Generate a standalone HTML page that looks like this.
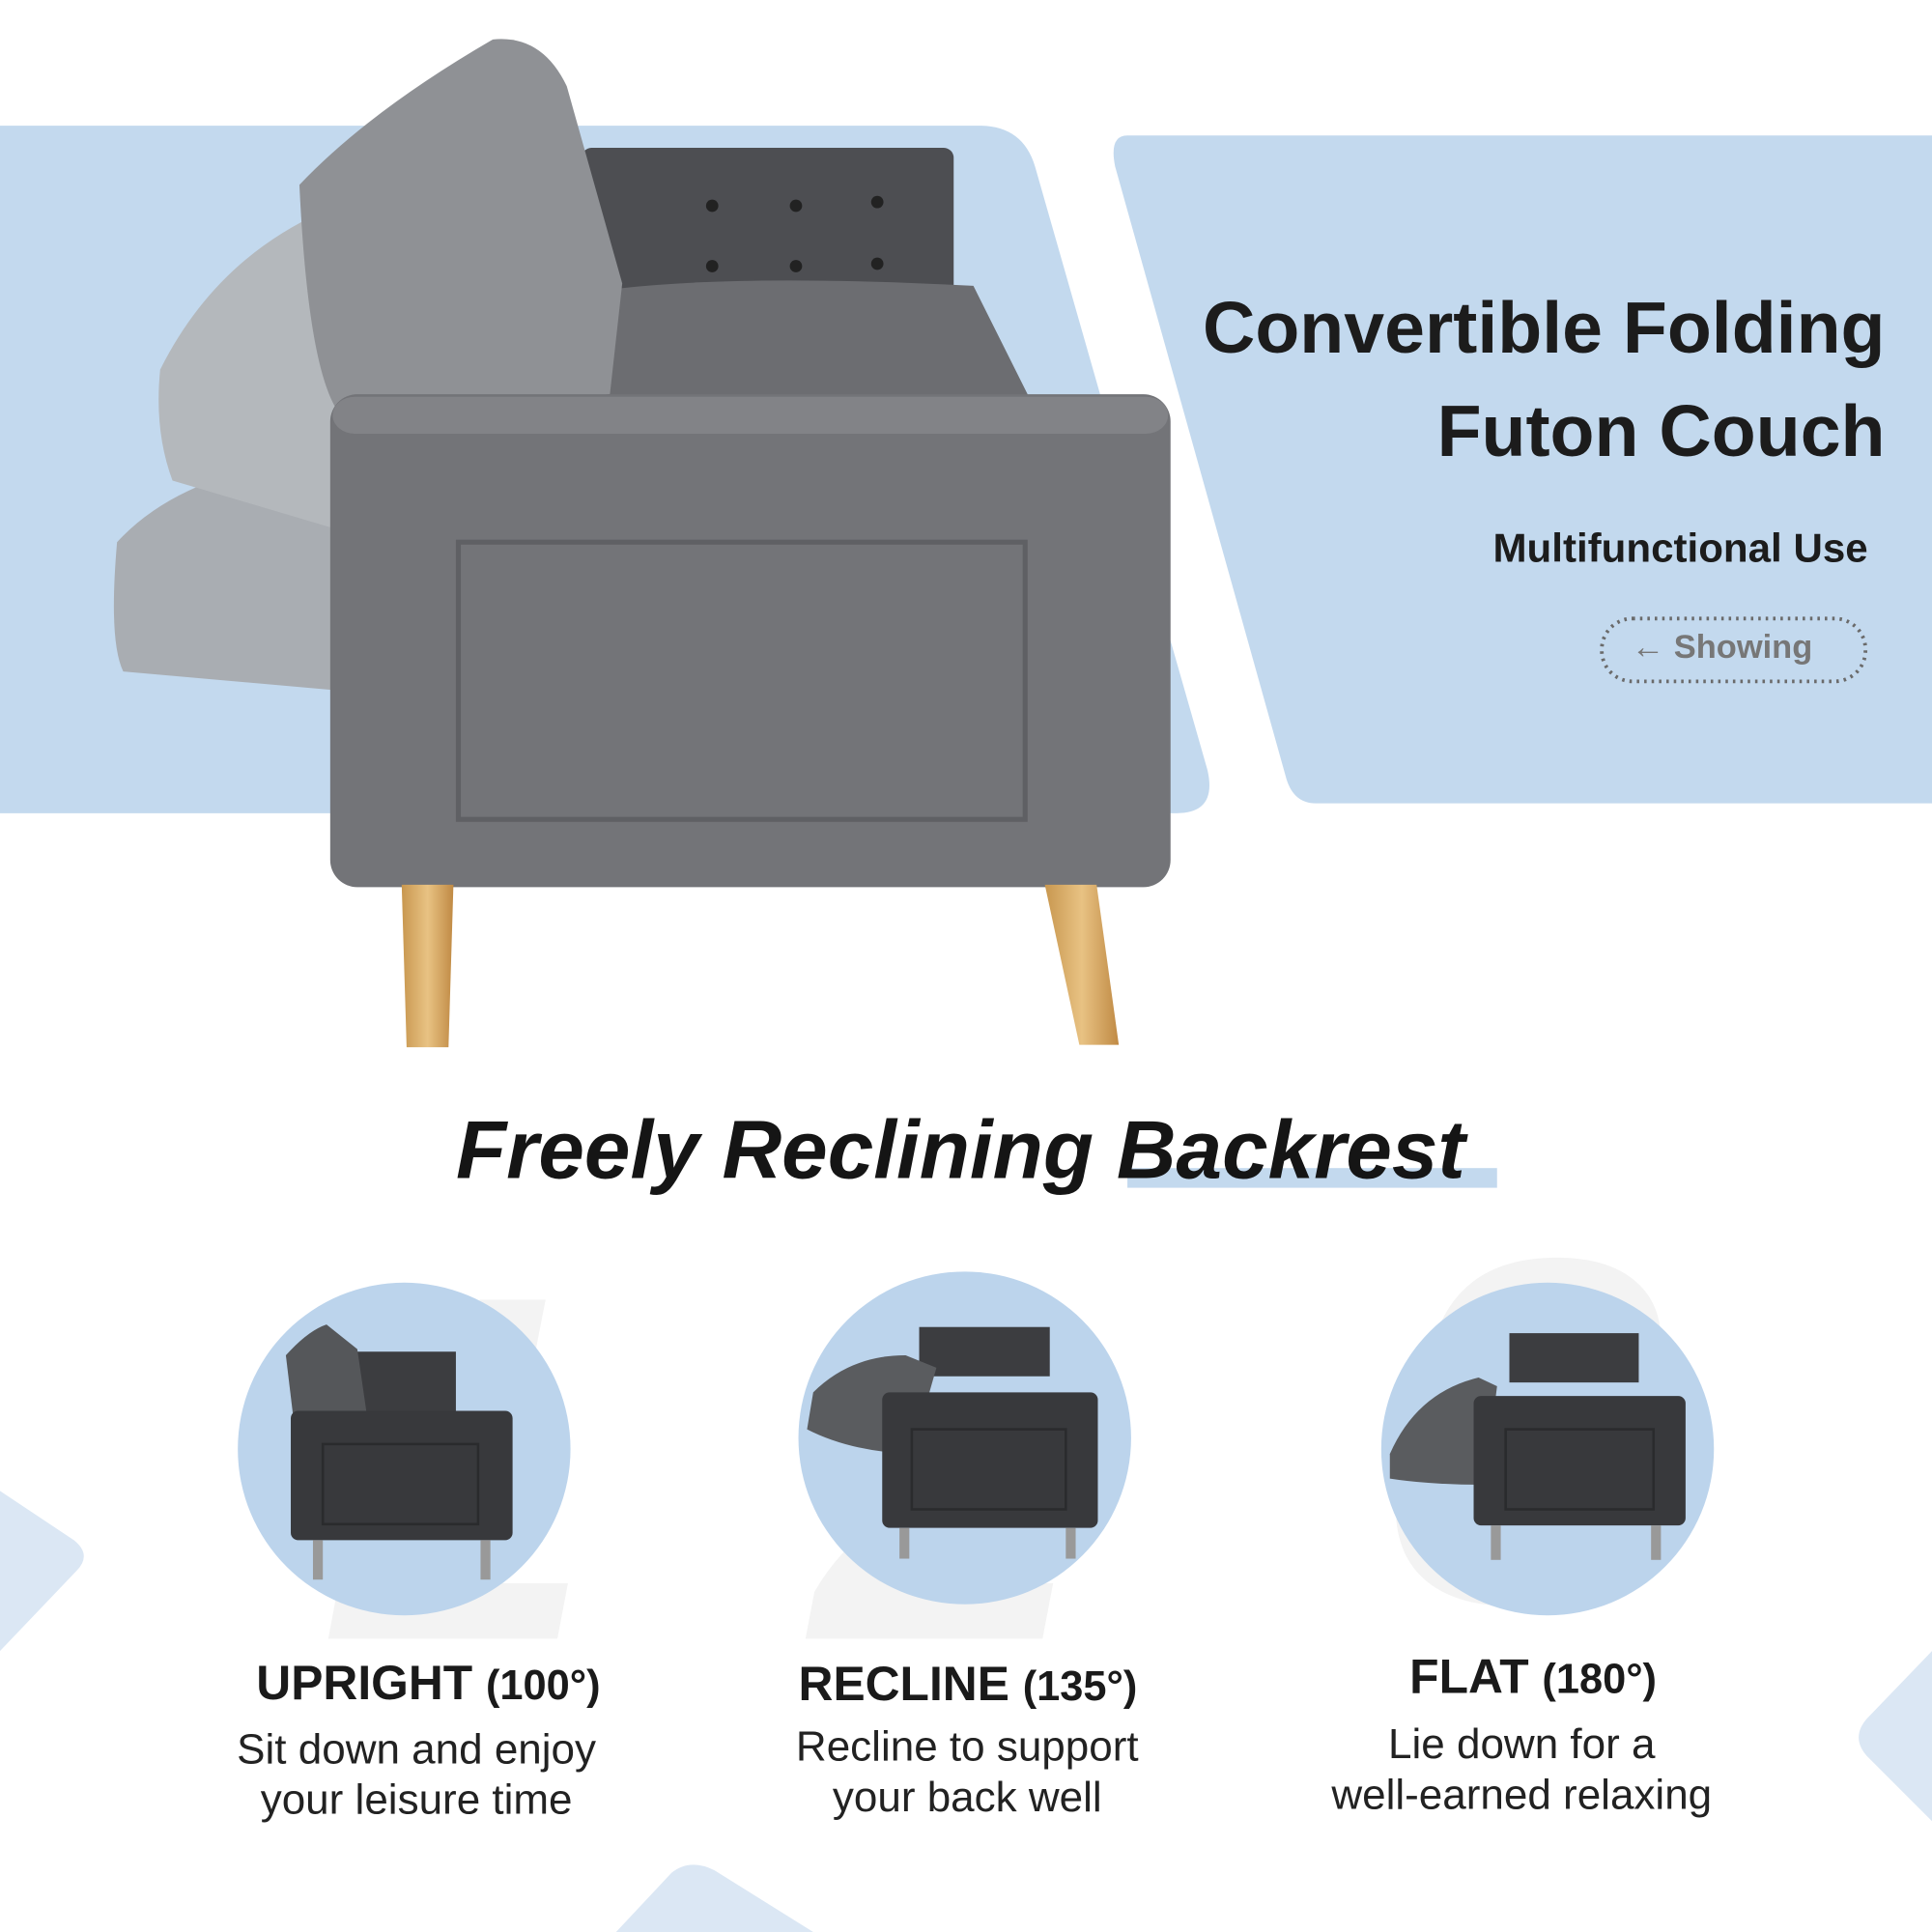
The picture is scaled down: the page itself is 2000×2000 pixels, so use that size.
<!DOCTYPE html>
<html><head><meta charset="utf-8">
<style>
html,body{margin:0;padding:0;background:#fff;overflow:hidden}
#w{width:1568px;height:1568px;position:relative;transform:scale(1.27551);transform-origin:0 0;font-family:"Liberation Sans",sans-serif}
.t{position:absolute;white-space:nowrap}
</style></head><body><div id="w">
<svg width="1568" height="1568" style="position:absolute;left:0;top:0">
<defs>
<linearGradient id="leg" x1="0" x2="1"><stop offset="0" stop-color="#c8974f"/><stop offset=".5" stop-color="#e8c283"/><stop offset="1" stop-color="#c08a44"/></linearGradient>
</defs>
<path d="M0 102 H795 Q830 102 840 135 L980 625 Q988 660 955 660 H0 Z" fill="#c3d9ee"/>
<path d="M915 110 H1568 V652 H1068 Q1050 652 1044 632 L905 135 Q900 110 915 110 Z" fill="#c3d9ee"/>
<path d="M0 1210 L60 1250 Q75 1262 62 1275 L0 1340 Z" fill="#dbe7f4"/>
<path d="M500 1568 L545 1520 Q560 1508 580 1518 L660 1568 Z" fill="#dbe7f4"/>
<path d="M1568 1340 L1515 1395 Q1502 1410 1515 1425 L1568 1478 Z" fill="#dbe7f4"/>
<text x="260" y="1330" font-size="400" font-style="italic" font-weight="bold" fill="#f3f3f3" font-family="Liberation Sans">1</text>
<text x="660" y="1330" font-size="400" font-style="italic" font-weight="bold" fill="#f3f3f3" font-family="Liberation Sans">2</text>
<text x="1130" y="1300" font-size="400" font-style="italic" font-weight="bold" fill="#f3f3f3" font-family="Liberation Sans">3</text>
<path d="M95 440 Q150 380 270 370 L270 560 L100 545 Q88 520 95 440 Z" fill="#a9adb2"/>
<path d="M130 300 Q170 220 245 180 L275 180 L275 430 L140 390 Q125 350 130 300 Z" fill="#b4b8bc"/>
<rect x="472" y="120" width="302" height="205" rx="8" fill="#4d4e52"/>
<g fill="#222">
<circle cx="578" cy="167" r="5"/><circle cx="646" cy="167" r="5"/><circle cx="712" cy="164" r="5"/>
<circle cx="578" cy="216" r="5"/><circle cx="646" cy="216" r="5"/><circle cx="712" cy="214" r="5"/>
</g>
<path d="M495 235 Q600 222 790 232 L835 322 L495 322 Z" fill="#6c6d71"/>
<path d="M243 150 Q300 90 400 32 Q440 28 460 70 L505 230 L495 320 L275 335 Q250 300 243 150 Z" fill="#8f9195"/>
<rect x="268" y="320" width="682" height="400" rx="22" fill="#737478"/>
<rect x="270" y="322" width="678" height="30" rx="18" fill="#828387"/>
<rect x="372" y="440" width="460" height="225" fill="none" stroke="#5f6064" stroke-width="4"/>
<path d="M326 718 H368 L364 850 H330 Z" fill="url(#leg)"/>
<path d="M848 718 H890 L908 848 H876 Z" fill="url(#leg)"/>
<circle cx="328" cy="1176" r="135" fill="#bcd4ec"/>
<circle cx="783" cy="1167" r="135" fill="#bcd4ec"/>
<circle cx="1256" cy="1176" r="135" fill="#bcd4ec"/>
<g>
<rect x="290" y="1097" width="80" height="50" fill="#3c3d40"/>
<path d="M232 1100 Q250 1080 265 1075 L290 1095 L298 1150 L238 1150 Z" fill="#55575a"/>
<rect x="236" y="1145" width="180" height="105" rx="6" fill="#38393c"/>
<rect x="262" y="1172" width="126" height="65" fill="none" stroke="#2a2b2d" stroke-width="2"/>
<rect x="254" y="1250" width="8" height="32" fill="#999"/><rect x="390" y="1250" width="8" height="32" fill="#999"/>
</g>
<g>
<rect x="746" y="1077" width="106" height="40" fill="#3c3d40"/>
<path d="M660 1130 Q690 1100 735 1100 L760 1110 L740 1180 Q690 1178 655 1160 Z" fill="#5a5c5f"/>
<rect x="716" y="1130" width="175" height="110" rx="6" fill="#38393c"/>
<rect x="740" y="1160" width="125" height="65" fill="none" stroke="#2a2b2d" stroke-width="2"/>
<rect x="730" y="1240" width="8" height="25" fill="#999"/><rect x="865" y="1240" width="8" height="25" fill="#999"/>
</g>
<g>
<rect x="1225" y="1082" width="105" height="40" fill="#3c3d40"/>
<path d="M1128 1180 Q1150 1130 1200 1118 L1215 1125 L1205 1205 Q1160 1205 1128 1200 Z" fill="#5a5c5f"/>
<rect x="1196" y="1133" width="172" height="105" rx="6" fill="#38393c"/>
<rect x="1222" y="1160" width="120" height="65" fill="none" stroke="#2a2b2d" stroke-width="2"/>
<rect x="1210" y="1238" width="8" height="28" fill="#999"/><rect x="1340" y="1238" width="8" height="28" fill="#999"/>
</g>
<rect x="915" y="948" width="300" height="16" fill="#c3d9ee"/>
<rect x="1300" y="502" width="214" height="51" rx="25" fill="none" stroke="#6a6a6a" stroke-width="3" stroke-dasharray="2 4"/>
</svg>
<div class="t" style="right:38px;top:224px;font-size:59px;font-weight:bold;color:#1c1c1c;text-align:right;line-height:84px">Convertible Folding<br>Futon Couch</div>
<div class="t" style="right:52px;top:426px;font-size:33px;font-weight:bold;color:#1c1c1c">Multifunctional Use</div>
<div class="t" style="left:1324px;top:510px;font-size:27px;color:#777;font-weight:bold">← Showing</div>
<div class="t" style="left:370px;top:895px;font-size:67px;font-weight:bold;font-style:italic;color:#151515">Freely Reclining Backrest</div>
<div class="t" style="left:208px;top:1345px;font-size:39px;font-weight:bold;color:#1a1a1a">UPRIGHT <span style="font-size:34px">(100°)</span></div>
<div class="t" style="left:168px;top:1400px;width:340px;text-align:center;font-size:34.5px;color:#222;line-height:41px">Sit down and enjoy<br>your leisure time</div>
<div class="t" style="left:648px;top:1346px;font-size:39px;font-weight:bold;color:#1a1a1a">RECLINE <span style="font-size:34px">(135°)</span></div>
<div class="t" style="left:610px;top:1398px;width:350px;text-align:center;font-size:34.5px;color:#222;line-height:41px">Recline to support<br>your back well</div>
<div class="t" style="left:1144px;top:1340px;font-size:39px;font-weight:bold;color:#1a1a1a">FLAT <span style="font-size:34px">(180°)</span></div>
<div class="t" style="left:1050px;top:1396px;width:370px;text-align:center;font-size:34.5px;color:#222;line-height:41px">Lie down for a<br>well-earned relaxing</div>
</div></body></html>
